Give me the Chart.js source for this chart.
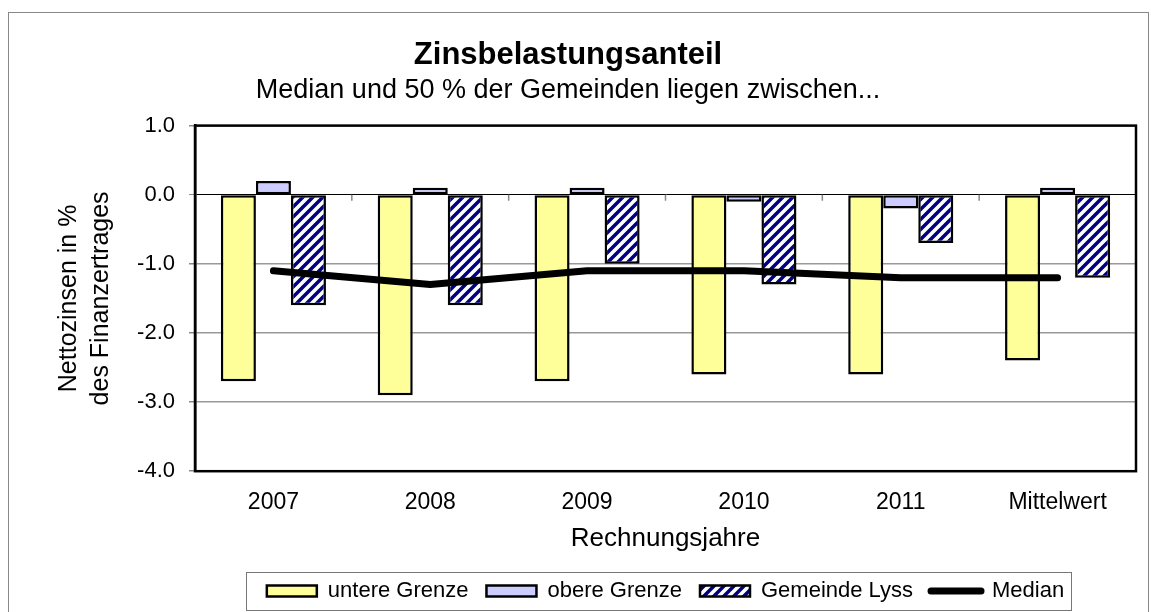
<!DOCTYPE html>
<html>
<head>
<meta charset="utf-8">
<script src="https://cdn.jsdelivr.net/npm/chart.js@4.4.0/dist/chart.umd.min.js"></script>
<style>
html, body { margin: 0; padding: 0; background: #fff; }
#rahmen { position: absolute; left: 8px; top: 12px; width: 1141px; height: 620px; border: 1px solid #888; box-sizing: border-box; }
#wrap { position: absolute; left: 0; top: 0; width: 1151px; height: 612px; }
</style>
</head>
<body>
<div id="rahmen"></div>
<div id="wrap"><canvas id="zinsChart"></canvas></div>
<script>
// Daten
var jahre = ['2007', '2008', '2009', '2010', '2011', 'Mittelwert'];
var untereGrenze = [-2.7, -2.9, -2.7, -2.6, -2.6, -2.4];
var obereGrenze = [0.2, 0.1, 0.1, -0.1, -0.2, 0.1];
var gemeindeLyss = [-1.6, -1.6, -1.0, -1.3, -0.7, -1.2];
var median = [-1.1, -1.3, -1.1, -1.1, -1.2, -1.2];

var schrift = 'Arial, "Liberation Sans", sans-serif';

// Schraffur fuer Gemeinde Lyss
function schraffur() {
    var c = document.createElement('canvas');
    c.width = 10; c.height = 10;
    var g = c.getContext('2d');
    g.fillStyle = '#ffffff';
    g.fillRect(0, 0, 10, 10);
    g.strokeStyle = '#000080';
    g.lineWidth = 3.5;
    g.beginPath();
    g.moveTo(-5, 5); g.lineTo(5, -5);
    g.moveTo(0, 10); g.lineTo(10, 0);
    g.moveTo(5, 15); g.lineTo(15, 5);
    g.stroke();
    return g.createPattern(c, 'repeat');
}

// Rahmen um Plotfläche, Striche an der Nulllinie, Kasten um Legende
var rahmenPlugin = {
    id: 'rahmen',
    afterDraw: function(chart) {
        var ctx = chart.ctx;
        var a = chart.chartArea;
        var y0 = chart.scales.y.getPixelForValue(0);
        ctx.save();
        ctx.strokeStyle = '#888';
        ctx.lineWidth = 1.5;
        var n = jahre.length;
        for (var i = 1; i < n; i++) {
            var x = a.left + i * (a.right - a.left) / n;
            ctx.beginPath();
            ctx.moveTo(x, y0);
            ctx.lineTo(x, y0 + 6);
            ctx.stroke();
        }
        ctx.strokeStyle = '#000';
        ctx.lineWidth = 2.5;
        ctx.strokeRect(a.left, a.top, a.right - a.left, a.bottom - a.top);

        var boxes = chart.legend.legendHitBoxes;
        if (boxes && boxes.length) {
            var l = boxes[0].left - 21;
            var last = boxes[boxes.length - 1];
            var r = last.left + last.width + 7;
            var t = boxes[0].top - 8;
            var b = boxes[0].top + boxes[0].height + 8;
            ctx.strokeStyle = '#777';
            ctx.lineWidth = 1;
            ctx.strokeRect(Math.round(l) + 0.5, Math.round(t) + 0.5, Math.round(r - l), Math.round(b - t));
        }
        ctx.restore();
    }
};

var ctx = document.getElementById('zinsChart').getContext('2d');
var zinsChart = new Chart(ctx, {
    type: 'bar',
    data: {
        labels: jahre,
        datasets: [{
            label: 'untere Grenze',
            data: untereGrenze,
            backgroundColor: '#FFFF99',
            borderColor: '#000',
            borderWidth: 2.5,
            borderSkipped: false,
            order: 1
        }, {
            label: 'obere Grenze',
            data: obereGrenze,
            backgroundColor: '#CCCCFF',
            borderColor: '#000',
            borderWidth: 2.5,
            borderSkipped: false,
            order: 1
        }, {
            label: 'Gemeinde Lyss',
            data: gemeindeLyss,
            backgroundColor: schraffur(),
            borderColor: '#000',
            borderWidth: 2.5,
            borderSkipped: false,
            order: 1
        }, {
            type: 'line',
            label: 'Median',
            data: median,
            borderColor: '#000',
            backgroundColor: '#000',
            borderWidth: 7,
            borderCapStyle: 'round',
            borderJoinStyle: 'round',
            pointRadius: 0,
            tension: 0,
            order: 0
        }]
    },
    options: {
        responsive: true,
        maintainAspectRatio: false,
        animation: false,
        categoryPercentage: 0.67,
        barPercentage: 1.0,
        layout: { padding: { left: 0, right: 15, top: 0, bottom: 0 } },
        plugins: {
            tooltip: { enabled: false },
            title: {
                display: true,
                text: 'Zinsbelastungsanteil',
                color: '#000',
                font: { family: schrift, size: 31, weight: 'bold' },
                padding: { top: 37, bottom: 0 }
            },
            subtitle: {
                display: true,
                text: 'Median und 50 % der Gemeinden liegen zwischen...',
                color: '#000',
                font: { family: schrift, size: 27 },
                padding: { top: 0, bottom: 19 }
            },
            legend: {
                position: 'bottom',
                fullSize: false,
                labels: {
                    color: '#000',
                    font: { family: schrift, size: 22 },
                    usePointStyle: true,
                    pointStyleWidth: 50,
                    boxHeight: 11,
                    padding: 18,
                    sort: function(a, b) { return a.datasetIndex - b.datasetIndex; },
                    generateLabels: function(chart) {
                        var items = Chart.defaults.plugins.legend.labels.generateLabels(chart);
                        items.forEach(function(it) {
                            if (it.text === 'Median') {
                                it.pointStyle = 'line';
                                it.lineWidth = 7;
                                it.lineCap = 'round';
                                it.strokeStyle = '#000';
                            } else {
                                it.pointStyle = 'rect';
                                it.lineWidth = 2.5;
                                it.strokeStyle = '#000';
                            }
                        });
                        return items;
                    }
                }
            }
        },
        scales: {
            x: {
                offset: true,
                grid: { display: false, drawTicks: false },
                border: { display: false },
                ticks: { color: '#000', font: { family: schrift, size: 23 }, padding: 18 },
                title: {
                    display: true,
                    text: 'Rechnungsjahre',
                    color: '#000',
                    font: { family: schrift, size: 26 },
                    padding: { top: -12, bottom: 8 }
                }
            },
            y: {
                min: -4,
                max: 1,
                afterFit: function(scale) { scale.width = 195; },
                ticks: {
                    stepSize: 1,
                    color: '#000',
                    font: { family: schrift, size: 22 },
                    padding: 14,
                    callback: function(v) { return v.toFixed(1); }
                },
                grid: {
                    color: function(c) { return c.tick && c.tick.value === 0 ? '#000' : '#999'; },
                    lineWidth: function(c) { return c.tick && c.tick.value === 0 ? 1 : 1.5; },
                    tickColor: '#888',
                    tickLength: 6
                },
                border: { display: true, color: '#000', width: 2.5 },
                title: {
                    display: true,
                    text: ['Nettozinsen in %', 'des Finanzertrages'],
                    color: '#000',
                    font: { family: schrift, size: 25, lineHeight: 1.28 },
                    padding: { top: 53, bottom: 0 }
                }
            }
        }
    },
    plugins: [rahmenPlugin]
});
</script>
</body>
</html>
